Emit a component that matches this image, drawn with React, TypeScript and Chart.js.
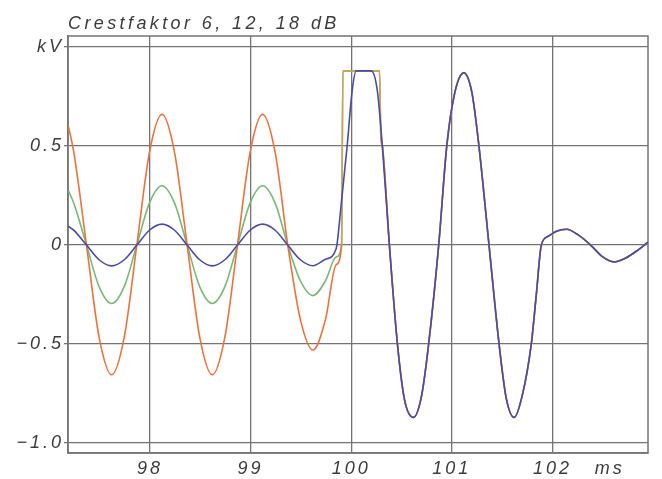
import React, { useEffect, useRef } from 'react';
import { Chart, registerables } from 'chart.js';

Chart.register(...registerables);

// ---- text ----
const titleText = 'Crestfaktor 6, 12, 18 dB';
const xTickValues = [98, 99, 100, 101, 102];
const xUnitLabel = 'ms';
const xUnitPosition = 102.57;
const yTickValues = [-1, -0.5, 0, 0.5, 1];
const yTickLabels = ['\u22121.0', '\u22120.5', '0', '0.5', 'kV'];

// ---- data: sine part before the burst (ms / kV) ----
const sineTimes = [97.19, 97.245, 97.37, 97.495, 97.62, 97.745, 97.87, 97.995, 98.12, 98.245, 98.37, 98.495, 98.62, 98.745, 98.87, 98.995, 99.12, 99.245, 99.37, 99.495, 99.62, 99.745, 99.85];
const blueSine = [0.095, 0.074, 0.0, -0.074, -0.105, -0.074, 0.0, 0.075, 0.106, 0.075, 0.0, -0.074, -0.105, -0.074, 0.0, 0.075, 0.106, 0.075, 0.0, -0.074, -0.104, -0.072, -0.02];
const greenSine = [0.275, 0.21, 0.0, -0.21, -0.295, -0.21, 0.0, 0.212, 0.3, 0.212, 0.0, -0.21, -0.295, -0.21, 0.0, 0.212, 0.3, 0.212, 0.0, -0.18, -0.255, -0.18, -0.06];
const orangeSine = [0.6, 0.465, 0.0, -0.465, -0.655, -0.465, 0.0, 0.467, 0.66, 0.467, 0.0, -0.465, -0.655, -0.465, 0.0, 0.467, 0.66, 0.467, 0.0, -0.375, -0.53, -0.375, -0.1];

// ---- clipped first peak ----
const blueRiseTimes = [99.9, 99.96, 100.01, 100.05, 100.2, 100.26];
const blueRise = [0.2, 0.5, 0.78, 0.88, 0.88, 0.78];
const wideRiseTimes = [99.905, 99.918, 100.282, 100.295];
const wideRise = [0.0, 0.88, 0.88, 0.55];

// ---- common tail ----
const tailTimes = [100.31, 100.38, 100.46, 100.53, 100.62, 100.7, 100.77, 100.87, 100.95, 101.03, 101.12, 101.2, 101.27, 101.37, 101.47, 101.54, 101.62, 101.7, 101.79, 101.84, 101.89, 101.96, 102.04, 102.14, 102.26, 102.38, 102.5, 102.61, 102.73, 102.85, 102.95];
const tailValues = [0.5, 0.0, -0.5, -0.78, -0.87, -0.76, -0.5, 0.0, 0.5, 0.77, 0.87, 0.77, 0.5, 0.0, -0.5, -0.77, -0.87, -0.76, -0.5, -0.25, 0.0, 0.045, 0.07, 0.08, 0.05, 0.0, -0.06, -0.085, -0.065, -0.025, 0.015];

const BLUE = '#4b4ba6';
const GREEN = '#78b878';
const ORANGE = '#e8733e';
const TAN = '#c9a45c';
const GRID = '#747474';
const TEXT = '#3c3c3c';
const FONT_FAMILY = '"Liberation Sans", Arial, sans-serif';

const pts = (xs: number[], ys: number[]) => xs.map((x, i) => ({ x, y: ys[i] }));

export default function App() {
  const ref = useRef<HTMLCanvasElement>(null);

  useEffect(() => {
    document.body.style.margin = '0';
    const canvas = ref.current;
    if (!canvas) return;

    const blue = [...pts(sineTimes, blueSine), ...pts(blueRiseTimes, blueRise), ...pts(tailTimes, tailValues)];
    const green = [...pts(sineTimes, greenSine), ...pts(wideRiseTimes, wideRise), ...pts(tailTimes, tailValues)];
    const orange = [...pts(sineTimes, orangeSine), ...pts(wideRiseTimes, wideRise), ...pts(tailTimes, tailValues)];

    const spacingPlugin = {
      id: 'spacing',
      beforeDraw(chart: any) {
        chart.ctx.letterSpacing = '3px';
      },
    };

    const framePlugin = {
      id: 'frame',
      beforeDatasetsDraw(chart: any) {
        const { ctx, chartArea } = chart;
        ctx.save();
        ctx.strokeStyle = GRID;
        ctx.lineWidth = 1.5;
        ctx.strokeRect(chartArea.left, chartArea.top, chartArea.right - chartArea.left, chartArea.bottom - chartArea.top);
        ctx.restore();
      },
      afterDraw(chart: any) {
        const { ctx } = chart;
        ctx.save();
        ctx.letterSpacing = '3.4px';
        ctx.font = `italic 18px ${FONT_FAMILY}`;
        ctx.fillStyle = TEXT;
        ctx.textAlign = 'left';
        ctx.textBaseline = 'alphabetic';
        ctx.fillText(titleText, 68, 29);
        ctx.restore();
      },
    };

    const tickFont = { family: FONT_FAMILY, size: 18, style: 'italic' as const };

    const chart = new Chart(canvas, {
      type: 'line',
      data: {
        datasets: [
          { data: blue, borderColor: BLUE, order: 0 },
          {
            data: orange,
            borderColor: ORANGE,
            order: 1,
            segment: {
              borderColor: (c: any) =>
                c.p0.parsed.x >= 99.9 && c.p1.parsed.x <= 100.3 ? TAN : undefined,
            },
          },
          { data: green, borderColor: GREEN, order: 2 },
        ],
      },
      options: {
        responsive: false,
        animation: false,
        layout: { padding: { top: 36, right: 14, left: 0, bottom: 0 } },
        plugins: {
          legend: { display: false },
          tooltip: { enabled: false },
          title: { display: false },
        },
        elements: {
          point: { radius: 0 },
          line: { borderWidth: 1.6, cubicInterpolationMode: 'monotone', fill: false },
        },
        scales: {
          x: {
            type: 'linear',
            min: 97.186,
            max: 102.95,
            afterBuildTicks: (s: any) => {
              s.ticks = [...xTickValues, xUnitPosition].map((v) => ({ value: v }));
            },
            afterFit: (s: any) => {
              s.height = 26;
            },
            grid: {
              color: (c: any) => (c.tick && c.tick.value === xUnitPosition ? 'rgba(0,0,0,0)' : GRID),
              lineWidth: 1.3,
              drawTicks: false,
            },
            border: { display: true, color: GRID, width: 1.5 },
            ticks: {
              callback: (v: any) => (v === xUnitPosition ? xUnitLabel : String(v)),
              font: tickFont,
              color: TEXT,
              padding: 5,
              maxRotation: 0,
              autoSkip: false,
            },
          },
          y: {
            type: 'linear',
            min: -1.05,
            max: 1.056,
            afterBuildTicks: (s: any) => {
              s.ticks = yTickValues.map((v) => ({ value: v }));
            },
            afterFit: (s: any) => {
              s.width = 68;
            },
            grid: { color: GRID, lineWidth: 1.3, drawTicks: true, tickLength: 4 },
            border: { display: true, color: GRID, width: 1.5 },
            ticks: {
              callback: (v: any) => {
                const i = yTickValues.indexOf(v);
                return i >= 0 ? yTickLabels[i] : '';
              },
              font: tickFont,
              color: TEXT,
              padding: 0,
              autoSkip: false,
            },
          },
        },
      },
      plugins: [spacingPlugin, framePlugin],
    } as any);

    return () => chart.destroy();
  }, []);

  return (
    <div style={{ position: 'fixed', left: 0, top: 0, width: 662, height: 479, background: '#fff' }}>
      <canvas ref={ref} width={662} height={479} style={{ display: 'block' }} />
    </div>
  );
}
